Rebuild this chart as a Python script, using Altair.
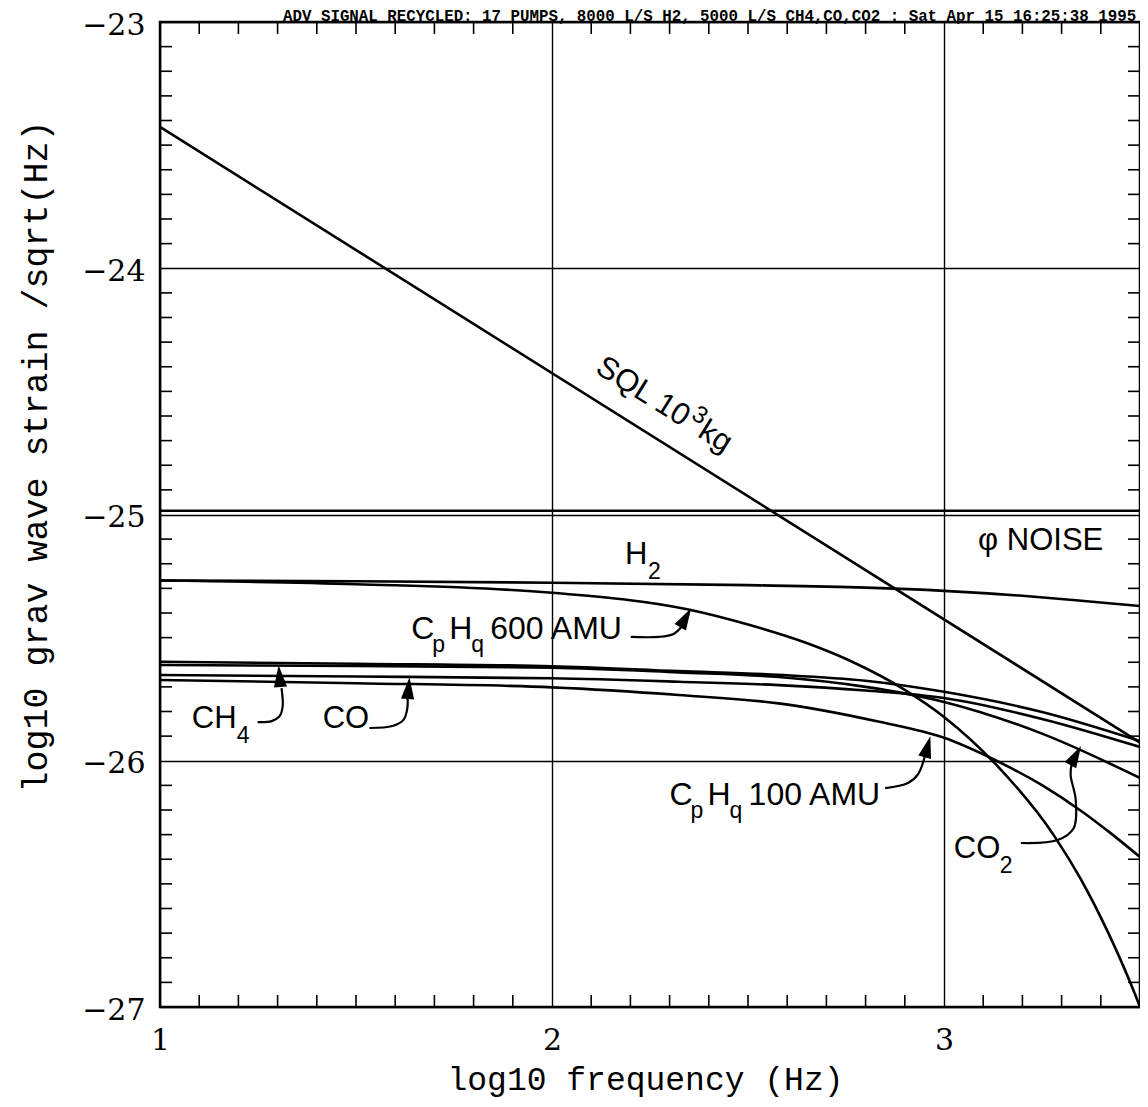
import altair as alt
import pandas as pd

# ---------------- curves: log10 frequency (Hz) vs log10 strain ----------------
sql_x = [1.0, 3.5]
sql_y = [-23.426, -25.926]

noise_x = [1.0, 3.5]
noise_y = [-24.985, -24.985]

h2_x = [1.0, 1.5, 2.0, 2.5, 2.8, 3.0, 3.2, 3.35, 3.5]
h2_y = [-25.268, -25.271, -25.277, -25.287, -25.297, -25.310, -25.330, -25.350, -25.372]

c600_x = [1.0, 1.5, 2.0, 2.345, 2.5, 2.646, 2.763, 2.901, 3.0, 3.13, 3.282, 3.349, 3.417, 3.476, 3.5]
c600_y = [-25.268, -25.283, -25.318, -25.385, -25.447, -25.520, -25.596, -25.713, -25.822,
          -26.011, -26.307, -26.481, -26.692, -26.904, -27.0]

gas_x = [1.0, 1.5, 2.0, 2.323, 2.578, 2.8, 3.0, 3.25, 3.5]
ch4_y = [-25.598, -25.606, -25.616, -25.636, -25.651, -25.675, -25.720, -25.802, -25.920]
co_y = [-25.652, -25.658, -25.665, -25.679, -25.693, -25.715, -25.745, -25.830, -25.944]
co2_y = [-25.611, -25.615, -25.622, -25.641, -25.660, -25.700, -25.761, -25.890, -26.070]

c100_x = [1.0, 1.5, 2.0, 2.323, 2.578, 2.832, 3.0, 3.13, 3.25, 3.35, 3.425, 3.5]
c100_y = [-25.672, -25.685, -25.702, -25.733, -25.767, -25.841, -25.907, -25.997, -26.099,
          -26.204, -26.294, -26.391]

series = {
    "SQL": (sql_x, sql_y),
    "noise": (noise_x, noise_y),
    "H2": (h2_x, h2_y),
    "CpHq600": (c600_x, c600_y),
    "CH4": (gas_x, ch4_y),
    "CO": (gas_x, co_y),
    "CO2": (gas_x, co2_y),
    "CpHq100": (c100_x, c100_y),
}

# ---------------- axes ----------------
X_DOMAIN = [1, 3.5]
Y_DOMAIN = [-27, -23]
x_major = [1, 2, 3]
y_major = [-27, -26, -25, -24, -23]
x_minor = [round(1 + i * 0.1, 1) for i in range(1, 25) if i % 10 != 0]
y_minor = [round(-27 + i * 0.1, 1) for i in range(1, 40) if i % 10 != 0]

header_text = "ADV SIGNAL RECYCLED: 17 PUMPS, 8000 L/S H2, 5000 L/S CH4,CO,CO2 : Sat Apr 15 16:25:38 1995"
x_title = "log10 frequency (Hz)"
y_title = "log10 grav wave strain /sqrt(Hz)"

# ---------------- annotations (anchor in data units, pieces: text, size, dx, dy) ----------------
cphq_pieces = [("C", 32, 0, 0), ("p", 23, 21, 13), ("H", 32, 38, 0), ("q", 23, 60, 13)]
labels = [
    (2.107, -24.421, 32, [("SQL 10", 31, 0, 0), ("3", 24, 106, -12), ("kg", 31, 121, 0)]),
    (2.186, -25.201, 0, [("H", 31, 0, 0), ("2", 23, 23, 15)]),
    (3.087, -25.144, 0, [("φ NOISE", 31, 0, 0)]),
    (1.641, -25.506, 0, cphq_pieces + [("600 AMU", 32, 79, 0)]),
    (2.300, -26.180, 0, cphq_pieces + [("100 AMU", 32, 79, 0)]),
    (1.081, -25.867, 0, [("CH", 31, 0, 0), ("4", 23, 45, 15)]),
    (1.415, -25.867, 0, [("CO", 31, 0, 0)]),
    (3.025, -26.395, 0, [("CO", 31, 0, 0), ("2", 23, 46, 15)]),
]

arrow_shafts = {
    "CH4": ([1.249, 1.285, 1.305, 1.313, 1.310], [-25.843, -25.839, -25.819, -25.778, -25.705]),
    "CO": ([1.534, 1.593, 1.621, 1.631, 1.631], [-25.867, -25.859, -25.834, -25.786, -25.729]),
    "C600": ([2.201, 2.272, 2.310, 2.333], [-25.497, -25.497, -25.485, -25.452]),
    "C100": ([2.850, 2.908, 2.934, 2.952], [-26.111, -26.090, -26.054, -25.977]),
    "CO2": ([3.196, 3.290, 3.331, 3.336, 3.323, 3.326],
            [-26.334, -26.322, -26.273, -26.159, -26.058, -26.009]),
}
head_x = [1.305, 1.634, 2.341, 2.958, 3.336]
head_y = [-25.656, -25.705, -25.419, -25.943, -25.979]
head_angle = [355, 5, 30, 15, 29]

# ---------------- build ----------------
W, H = 980, 985
xs = alt.Scale(domain=X_DOMAIN, nice=False, zero=False)
ys = alt.Scale(domain=Y_DOMAIN, nice=False, zero=False)

rows = []
for name, (sx, sy) in series.items():
    for i, (xv, yv) in enumerate(zip(sx, sy)):
        rows.append({"series": name, "i": i, "x": xv, "y": yv})
curves = pd.DataFrame(rows)

x_axis = alt.Axis(values=x_major, format="d", labelFont="DejaVu Serif", labelFontSize=30,
                  labelColor="black", labelPadding=18, labelFlush=False, ticks=False,
                  domain=False, grid=True, gridColor="black", gridWidth=1.4, gridOpacity=1,
                  title=x_title, titleFont="Liberation Mono", titleFontSize=33,
                  titleFontWeight="normal", titleColor="black", titleX=485, titleY=72,
                  titleAlign="center", titleBaseline="middle")
y_axis = alt.Axis(values=y_major, format="d", labelFont="DejaVu Serif", labelFontSize=30,
                  labelColor="black", labelPadding=15, labelOffset=3, labelFlush=False,
                  ticks=False, domain=False, grid=True, gridColor="black", gridWidth=1.4,
                  gridOpacity=1, title=y_title, titleFont="Liberation Mono", titleFontSize=35,
                  titleFontWeight="normal", titleColor="black", titleX=-125, titleY=434,
                  titleAngle=270, titleAlign="center", titleBaseline="middle")

X = alt.X("x:Q", scale=xs)
Y = alt.Y("y:Q", scale=ys)

lines = alt.Chart(curves).mark_line(color="black", strokeWidth=2.6, interpolate="monotone").encode(
    x=alt.X("x:Q", scale=xs, axis=x_axis),
    y=alt.Y("y:Q", scale=ys, axis=y_axis),
    detail="series:N",
    order="i:Q",
)

layers = [lines]

xt = pd.DataFrame({"x": x_minor})
yt = pd.DataFrame({"y": y_minor})
TL = 12
for y0, y1 in [(H, H - TL), (0, TL)]:
    layers.append(alt.Chart(xt).mark_rule(color="black", strokeWidth=1.6).encode(
        x=X, y=alt.value(y0), y2=alt.value(y1)))
for x0, x1 in [(0, TL), (W, W - TL)]:
    layers.append(alt.Chart(yt).mark_rule(color="black", strokeWidth=1.6).encode(
        y=Y, x=alt.value(x0), x2=alt.value(x1)))

# arrow shafts
arows = []
for name, (sx, sy) in arrow_shafts.items():
    for i, (xv, yv) in enumerate(zip(sx, sy)):
        arows.append({"arrow": name, "i": i, "x": xv, "y": yv})
layers.append(alt.Chart(pd.DataFrame(arows)).mark_line(
    color="black", strokeWidth=2.2, interpolate="catmull-rom").encode(
    x=X, y=Y, detail="arrow:N", order="i:Q"))

# arrow heads
heads = pd.DataFrame({"x": head_x, "y": head_y, "a": head_angle})
layers.append(alt.Chart(heads).mark_point(
    shape="M0,-1L0.6,1L-0.6,1Z", filled=True, size=480, color="black", opacity=1,
    strokeWidth=0).encode(
    x=X, y=Y, angle=alt.Angle("a:Q", scale=None)))

# labels
for ax, ay, ang, pieces in labels:
    for text, size, dx, dy in pieces:
        df = pd.DataFrame({"x": [ax], "y": [ay], "t": [text]})
        layers.append(alt.Chart(df).mark_text(
            font="Liberation Sans", fontSize=size, align="left", baseline="alphabetic",
            dx=dx, dy=dy, angle=ang, color="black").encode(
            x=X, y=Y, text="t:N"))

# header
layers.append(alt.Chart(pd.DataFrame({"t": [header_text]})).mark_text(
    font="Liberation Mono", fontWeight="bold", fontSize=15.8, align="left",
    baseline="alphabetic", color="black").encode(
    text="t:N", x=alt.value(123), y=alt.value(-1)))

chart = alt.layer(*layers).properties(
    width=W, height=H,
    autosize=alt.AutoSizeParams(type="none"),
    padding={"left": 152, "top": 14, "right": 0, "bottom": 92},
    background="white",
).configure_view(stroke="black", strokeWidth=2.5)

chart.save("out.html", embed_options={"renderer": "svg", "actions": False})
